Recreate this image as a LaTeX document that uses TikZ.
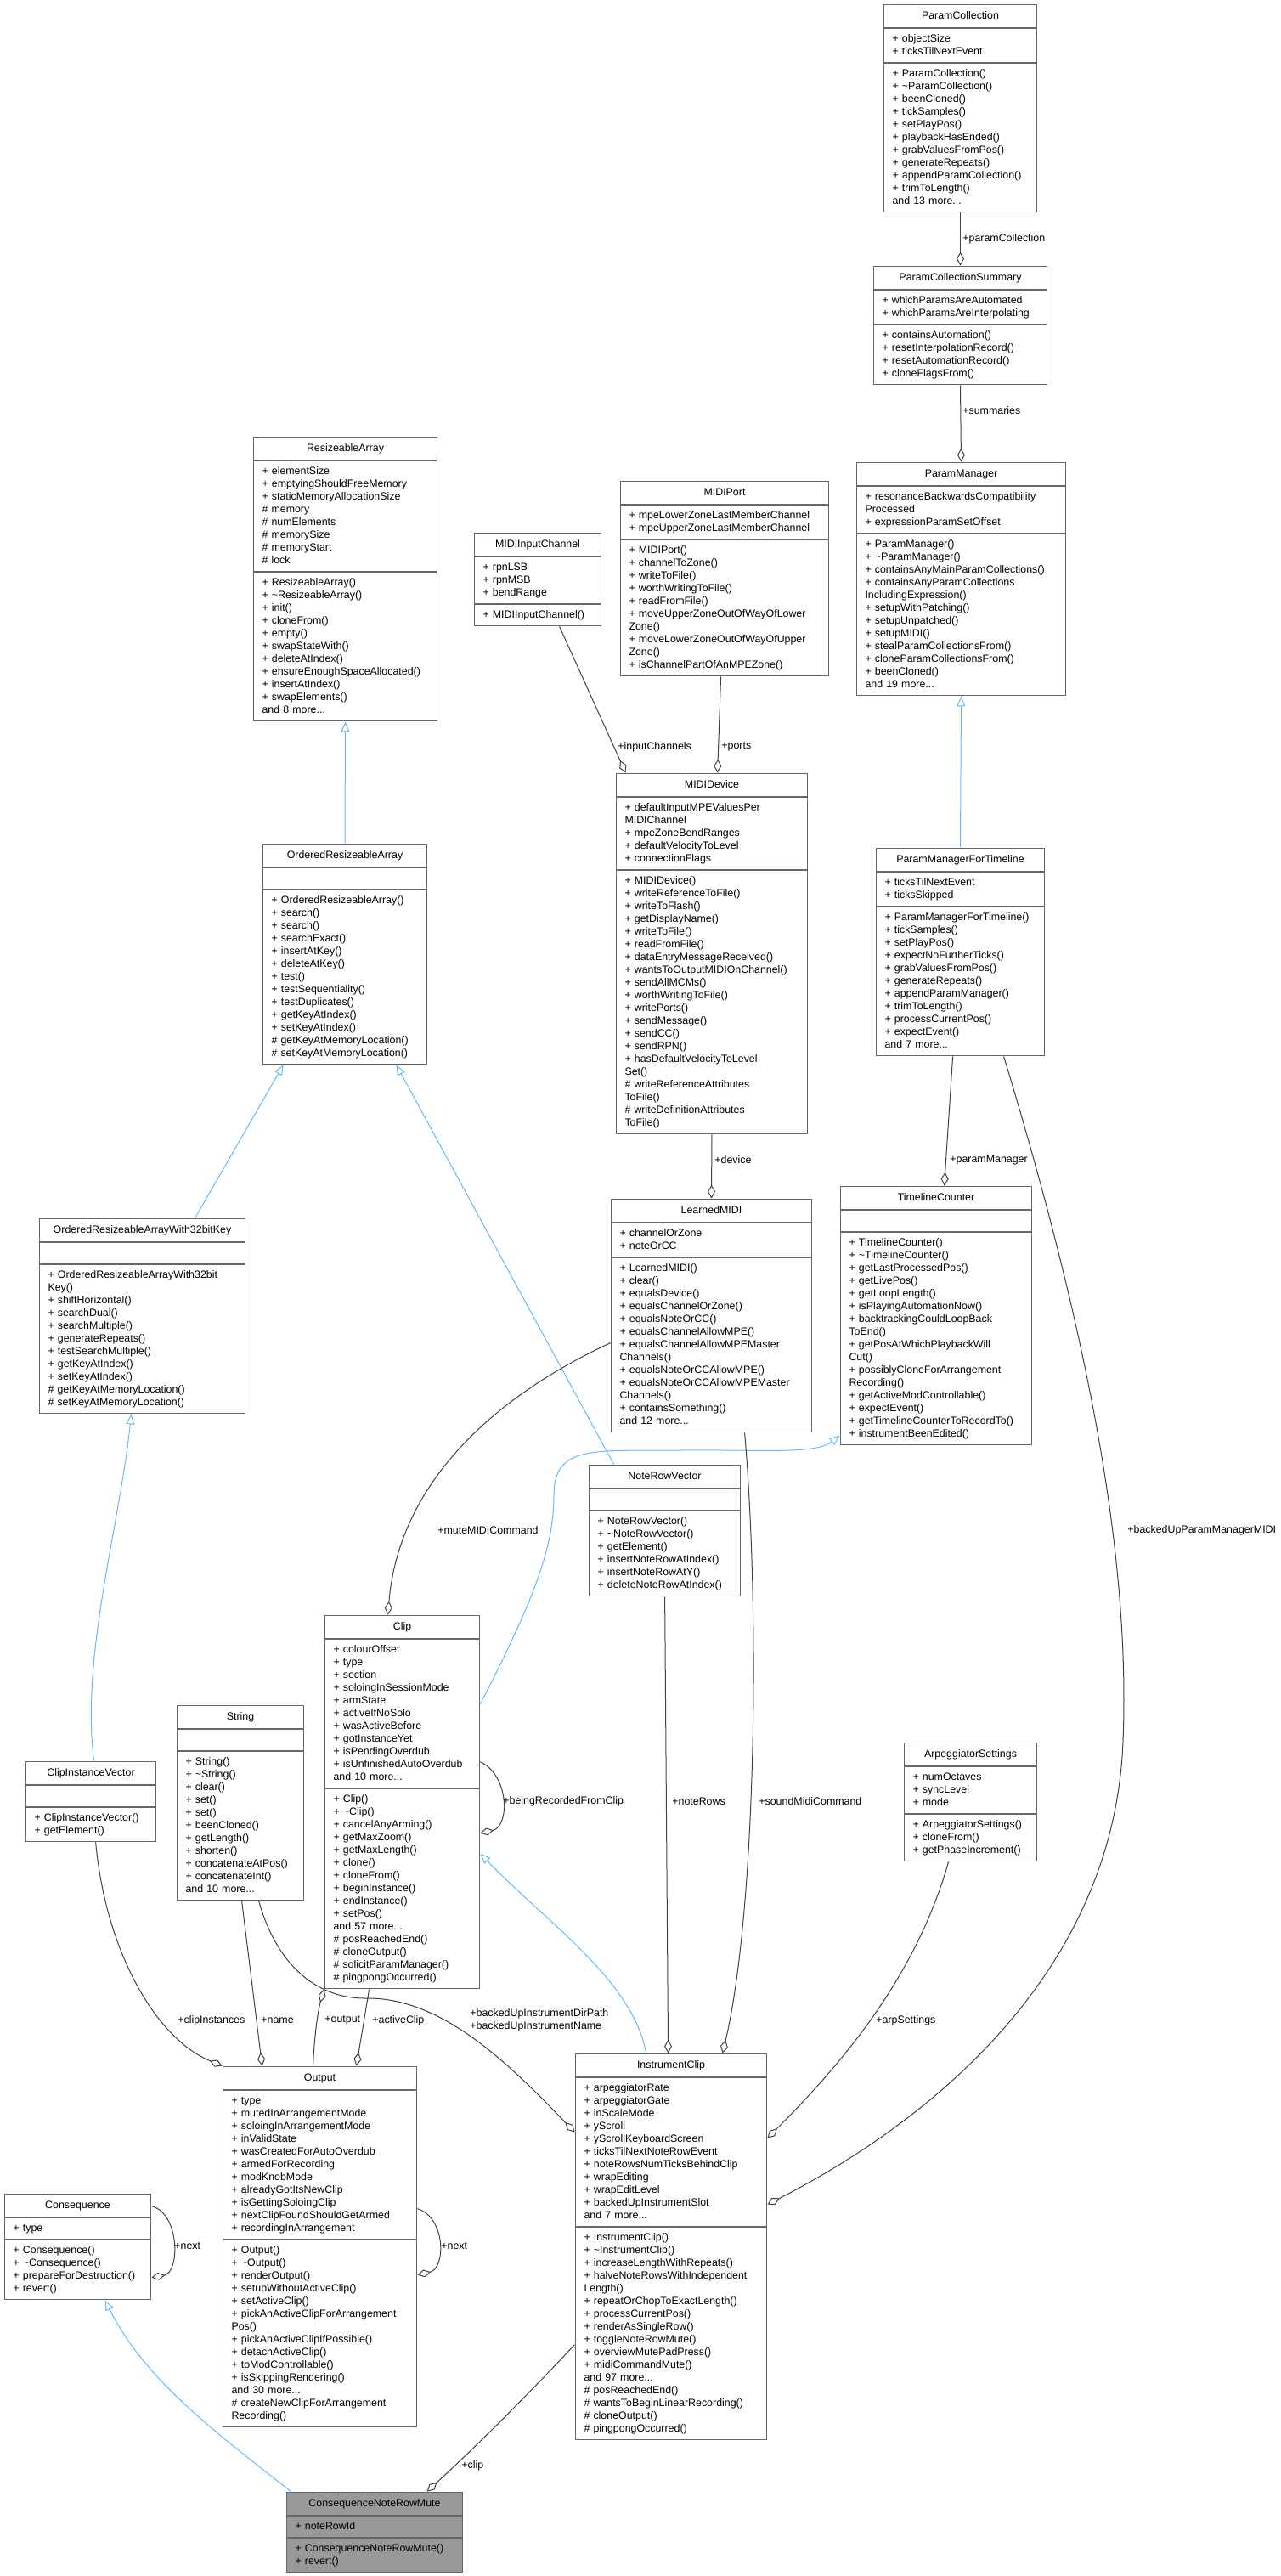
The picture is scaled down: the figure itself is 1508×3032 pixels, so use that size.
\documentclass[tikz,border=0pt]{standalone}
\usepackage{fontspec}
\newfontfamily\umlfont{Liberation Sans}
\usetikzlibrary{arrows.meta,fit}
\definecolor{boxgray}{HTML}{666666}
\definecolor{linegray}{HTML}{404040}
\definecolor{inhblue}{HTML}{63B8FF}
\definecolor{focusgray}{HTML}{999999}

% class box: [style]{name}{x}{y}{width}{title}{attributes}{methods}
\newcommand{\umlclass}[8][]{%
  \pgfmathsetmacro\clsw{#5*0.5-10}%
  \node[classtitle,#1,text width=\clsw pt] (#2-t) at (#3,#4) {#6};
  \node[classpart,#1,text width=\clsw pt,anchor=north] (#2-a) at (#2-t.south) {#7};
  \node[classpart,#1,text width=\clsw pt,anchor=north] (#2-m) at (#2-a.south) {#8};
  \node[fit=(#2-t)(#2-m),inner sep=0pt] (#2) {};
}

\begin{document}
\begin{tikzpicture}[x=0.5pt,y=-0.5pt,
    umltext/.style={font=\umlfont\fontsize{6.2}{7.5}\selectfont},
    classtitle/.style={umltext,draw=boxgray,fill=white,line width=0.5pt,align=center,anchor=north west,
      inner xsep=5pt,inner ysep=3pt,execute at begin node=\strut,execute at end node=\strut},
    classpart/.style={umltext,draw=boxgray,fill=white,line width=0.5pt,align=left,
      inner xsep=5pt,inner ysep=2.5pt,execute at begin node=\strut,execute at end node=\strut},
    focus/.style={fill=focusgray},
    agg/.style={draw=linegray,line width=0.5pt,-{Diamond[open,length=8pt,width=4.5pt]}},
    inh/.style={draw=inhblue,line width=0.5pt,-{Triangle[open,length=6pt,width=5pt]}},
    lbl/.style={umltext,anchor=west,inner sep=0pt,align=left}]
\useasboundingbox (0,0) rectangle (1508,3032);

\umlclass{ParamCollection}{1040}{5}{180}{ParamCollection}
  {+ objectSize\\+ ticksTilNextEvent}
  {+ ParamCollection()\\+ \textasciitilde ParamCollection()\\+ beenCloned()\\+ tickSamples()\\+ setPlayPos()\\+ playbackHasEnded()\\+ grabValuesFromPos()\\+ generateRepeats()\\+ appendParamCollection()\\+ trimToLength()\\and 13 more...}
\umlclass{ParamCollectionSummary}{1028}{313}{204}{ParamCollectionSummary}
  {+ whichParamsAreAutomated\\+ whichParamsAreInterpolating}
  {+ containsAutomation()\\+ resetInterpolationRecord()\\+ resetAutomationRecord()\\+ cloneFlagsFrom()}
\umlclass{ParamManager}{1008}{544}{246}{ParamManager}
  {+ resonanceBackwardsCompatibility\\Processed\\+ expressionParamSetOffset}
  {+ ParamManager()\\+ \textasciitilde ParamManager()\\+ containsAnyMainParamCollections()\\+ containsAnyParamCollections\\IncludingExpression()\\+ setupWithPatching()\\+ setupUnpatched()\\+ setupMIDI()\\+ stealParamCollectionsFrom()\\+ cloneParamCollectionsFrom()\\+ beenCloned()\\and 19 more...}
\umlclass{ResizeableArray}{298}{514}{216}{ResizeableArray}
  {+ elementSize\\+ emptyingShouldFreeMemory\\+ staticMemoryAllocationSize\\\# memory\\\# numElements\\\# memorySize\\\# memoryStart\\\# lock}
  {+ ResizeableArray()\\+ \textasciitilde ResizeableArray()\\+ init()\\+ cloneFrom()\\+ empty()\\+ swapStateWith()\\+ deleteAtIndex()\\+ ensureEnoughSpaceAllocated()\\+ insertAtIndex()\\+ swapElements()\\and 8 more...}
\umlclass{MIDIInputChannel}{558}{627}{149}{MIDIInputChannel}
  {+ rpnLSB\\+ rpnMSB\\+ bendRange}
  {+ MIDIInputChannel()}
\umlclass{MIDIPort}{730}{566}{245}{MIDIPort}
  {+ mpeLowerZoneLastMemberChannel\\+ mpeUpperZoneLastMemberChannel}
  {+ MIDIPort()\\+ channelToZone()\\+ writeToFile()\\+ worthWritingToFile()\\+ readFromFile()\\+ moveUpperZoneOutOfWayOfLower\\Zone()\\+ moveLowerZoneOutOfWayOfUpper\\Zone()\\+ isChannelPartOfAnMPEZone()}
\umlclass{MIDIDevice}{725}{910}{225}{MIDIDevice}
  {+ defaultInputMPEValuesPer\\MIDIChannel\\+ mpeZoneBendRanges\\+ defaultVelocityToLevel\\+ connectionFlags}
  {+ MIDIDevice()\\+ writeReferenceToFile()\\+ writeToFlash()\\+ getDisplayName()\\+ writeToFile()\\+ readFromFile()\\+ dataEntryMessageReceived()\\+ wantsToOutputMIDIOnChannel()\\+ sendAllMCMs()\\+ worthWritingToFile()\\+ writePorts()\\+ sendMessage()\\+ sendCC()\\+ sendRPN()\\+ hasDefaultVelocityToLevel\\Set()\\\# writeReferenceAttributes\\ToFile()\\\# writeDefinitionAttributes\\ToFile()}
\umlclass{OrderedResizeableArray}{309}{993}{193}{OrderedResizeableArray}
  {}
  {+ OrderedResizeableArray()\\+ search()\\+ search()\\+ searchExact()\\+ insertAtKey()\\+ deleteAtKey()\\+ test()\\+ testSequentiality()\\+ testDuplicates()\\+ getKeyAtIndex()\\+ setKeyAtIndex()\\\# getKeyAtMemoryLocation()\\\# setKeyAtMemoryLocation()}
\umlclass{ParamManagerForTimeline}{1031}{998}{198}{ParamManagerForTimeline}
  {+ ticksTilNextEvent\\+ ticksSkipped}
  {+ ParamManagerForTimeline()\\+ tickSamples()\\+ setPlayPos()\\+ expectNoFurtherTicks()\\+ grabValuesFromPos()\\+ generateRepeats()\\+ appendParamManager()\\+ trimToLength()\\+ processCurrentPos()\\+ expectEvent()\\and 7 more...}
\umlclass{LearnedMIDI}{719}{1411}{236}{LearnedMIDI}
  {+ channelOrZone\\+ noteOrCC}
  {+ LearnedMIDI()\\+ clear()\\+ equalsDevice()\\+ equalsChannelOrZone()\\+ equalsNoteOrCC()\\+ equalsChannelAllowMPE()\\+ equalsChannelAllowMPEMaster\\Channels()\\+ equalsNoteOrCCAllowMPE()\\+ equalsNoteOrCCAllowMPEMaster\\Channels()\\+ containsSomething()\\and 12 more...}
\umlclass{TimelineCounter}{989}{1396}{225}{TimelineCounter}
  {}
  {+ TimelineCounter()\\+ \textasciitilde TimelineCounter()\\+ getLastProcessedPos()\\+ getLivePos()\\+ getLoopLength()\\+ isPlayingAutomationNow()\\+ backtrackingCouldLoopBack\\ToEnd()\\+ getPosAtWhichPlaybackWill\\Cut()\\+ possiblyCloneForArrangement\\Recording()\\+ getActiveModControllable()\\+ expectEvent()\\+ getTimelineCounterToRecordTo()\\+ instrumentBeenEdited()}
\umlclass{OrderedResizeableArrayWith32bitKey}{46}{1434}{242}{OrderedResizeableArrayWith32bitKey}
  {}
  {+ OrderedResizeableArrayWith32bit\\Key()\\+ shiftHorizontal()\\+ searchDual()\\+ searchMultiple()\\+ generateRepeats()\\+ testSearchMultiple()\\+ getKeyAtIndex()\\+ setKeyAtIndex()\\\# getKeyAtMemoryLocation()\\\# setKeyAtMemoryLocation()}
\umlclass{NoteRowVector}{693}{1724}{178}{NoteRowVector}
  {}
  {+ NoteRowVector()\\+ \textasciitilde NoteRowVector()\\+ getElement()\\+ insertNoteRowAtIndex()\\+ insertNoteRowAtY()\\+ deleteNoteRowAtIndex()}
\umlclass{Clip}{382}{1901}{182}{Clip}
  {+ colourOffset\\+ type\\+ section\\+ soloingInSessionMode\\+ armState\\+ activeIfNoSolo\\+ wasActiveBefore\\+ gotInstanceYet\\+ isPendingOverdub\\+ isUnfinishedAutoOverdub\\and 10 more...}
  {+ Clip()\\+ \textasciitilde Clip()\\+ cancelAnyArming()\\+ getMaxZoom()\\+ getMaxLength()\\+ clone()\\+ cloneFrom()\\+ beginInstance()\\+ endInstance()\\+ setPos()\\and 57 more...\\\# posReachedEnd()\\\# cloneOutput()\\\# solicitParamManager()\\\# pingpongOccurred()}
\umlclass{String}{208}{2007}{149}{String}
  {}
  {+ String()\\+ \textasciitilde String()\\+ clear()\\+ set()\\+ set()\\+ beenCloned()\\+ getLength()\\+ shorten()\\+ concatenateAtPos()\\+ concatenateInt()\\and 10 more...}
\umlclass{ClipInstanceVector}{30}{2073}{153}{ClipInstanceVector}
  {}
  {+ ClipInstanceVector()\\+ getElement()}
\umlclass{ArpeggiatorSettings}{1064}{2051}{156}{ArpeggiatorSettings}
  {+ numOctaves\\+ syncLevel\\+ mode}
  {+ ArpeggiatorSettings()\\+ cloneFrom()\\+ getPhaseIncrement()}
\umlclass{Output}{262}{2432}{228}{Output}
  {+ type\\+ mutedInArrangementMode\\+ soloingInArrangementMode\\+ inValidState\\+ wasCreatedForAutoOverdub\\+ armedForRecording\\+ modKnobMode\\+ alreadyGotItsNewClip\\+ isGettingSoloingClip\\+ nextClipFoundShouldGetArmed\\+ recordingInArrangement}
  {+ Output()\\+ \textasciitilde Output()\\+ renderOutput()\\+ setupWithoutActiveClip()\\+ setActiveClip()\\+ pickAnActiveClipForArrangement\\Pos()\\+ pickAnActiveClipIfPossible()\\+ detachActiveClip()\\+ toModControllable()\\+ isSkippingRendering()\\and 30 more...\\\# createNewClipForArrangement\\Recording()}
\umlclass{InstrumentClip}{677}{2417}{225}{InstrumentClip}
  {+ arpeggiatorRate\\+ arpeggiatorGate\\+ inScaleMode\\+ yScroll\\+ yScrollKeyboardScreen\\+ ticksTilNextNoteRowEvent\\+ noteRowsNumTicksBehindClip\\+ wrapEditing\\+ wrapEditLevel\\+ backedUpInstrumentSlot\\and 7 more...}
  {+ InstrumentClip()\\+ \textasciitilde InstrumentClip()\\+ increaseLengthWithRepeats()\\+ halveNoteRowsWithIndependent\\Length()\\+ repeatOrChopToExactLength()\\+ processCurrentPos()\\+ renderAsSingleRow()\\+ toggleNoteRowMute()\\+ overviewMutePadPress()\\+ midiCommandMute()\\and 97 more...\\\# posReachedEnd()\\\# wantsToBeginLinearRecording()\\\# cloneOutput()\\\# pingpongOccurred()}
\umlclass{Consequence}{5}{2582}{172}{Consequence}
  {+ type}
  {+ Consequence()\\+ \textasciitilde Consequence()\\+ prepareForDestruction()\\+ revert()}
\umlclass[focus]{ConsequenceNoteRowMute}{337}{2933}{207}{ConsequenceNoteRowMute}
  {+ noteRowId}
  {+ ConsequenceNoteRowMute()\\+ revert()}

% inheritance
\draw[inh] (OrderedResizeableArray.north) -- (ResizeableArray.south);
\draw[inh] ([shift={(184,0)}]OrderedResizeableArrayWith32bitKey.north west) -- ([shift={(25,0)}]OrderedResizeableArray.south west);
\draw[inh] ([shift={(30,0)}]NoteRowVector.north west) -- ([shift={(158,0)}]OrderedResizeableArray.south west);
\draw[inh] ([shift={(81,0)}]ClipInstanceVector.north west) .. controls (95,1950) and (140,1800) .. ([shift={(109,0)}]OrderedResizeableArrayWith32bitKey.south west);
\draw[inh] (ParamManagerForTimeline.north) -- (ParamManager.south);
\draw[inh] ([shift={(0,105)}]Clip.north east) .. controls (630,1880) and (652,1820) .. (652,1760)
  .. controls (652,1700) and (700,1708) .. (800,1707) .. controls (900,1706) and (960,1712) .. ([shift={(0,294)}]TimelineCounter.north west);
\draw[inh] ([shift={(84,0)}]InstrumentClip.north west) .. controls (745,2330) and (640,2260) .. ([shift={(0,281)}]Clip.north east);
\draw[inh] ([shift={(6,0)}]ConsequenceNoteRowMute.north west) .. controls (250,2860) and (170,2800) .. ([shift={(119,0)}]Consequence.south west);

% aggregation
\draw[agg] (ParamCollection.south) -- (ParamCollectionSummary.north);
\draw[agg] (ParamCollectionSummary.south) -- (ParamManager.north);
\draw[agg] ([shift={(101,0)}]MIDIInputChannel.south west) -- ([shift={(12,0)}]MIDIDevice.north west);
\draw[agg] ([shift={(119,0)}]MIDIPort.south west) -- ([shift={(120,0)}]MIDIDevice.north west);
\draw[agg] (MIDIDevice.south) -- (LearnedMIDI.north);
\draw[agg] ([shift={(91,0)}]ParamManagerForTimeline.south west) -- ([shift={(123,0)}]TimelineCounter.north west);
\draw[agg] ([shift={(0,170)}]LearnedMIDI.north west) .. controls (590,1640) and (470,1740) .. ([shift={(75,0)}]Clip.north west);
\draw[agg] ([shift={(151,0)}]ParamManagerForTimeline.south west) .. controls (1290,1600) and (1330,1850) .. (1322,2050)
  .. controls (1310,2350) and (1050,2520) .. ([shift={(0,178)}]InstrumentClip.north east);
\draw[agg] ([shift={(158,0)}]LearnedMIDI.south west) .. controls (895,1900) and (890,2250) .. ([shift={(174,0)}]InstrumentClip.north west);
\draw[agg] ([shift={(90,0)}]NoteRowVector.south west) -- ([shift={(110,0)}]InstrumentClip.north west);
\draw[agg] ([shift={(53,0)}]ArpeggiatorSettings.south west) .. controls (1080,2320) and (1000,2420) .. ([shift={(0,100)}]InstrumentClip.north east);
\draw[agg] ([shift={(0,173)}]Clip.north east) .. controls (600,2090) and (600,2150) .. ([shift={(0,257)}]Clip.north east);
\draw[agg] ([shift={(97,0)}]String.south west) .. controls (325,2310) and (370,2352) .. (430,2352)
  .. controls (520,2350) and (600,2430) .. ([shift={(0,93)}]InstrumentClip.north west);
\draw[agg] ([shift={(77,0)}]String.south west) -- ([shift={(47,0)}]Output.north west);
\draw[agg] ([shift={(83,0)}]ClipInstanceVector.south west) .. controls (125,2300) and (185,2400) .. (Output.north west);
\draw[agg] ([shift={(107,0)}]Output.north west) .. controls (370,2390) and (376,2360) .. (Clip.south west);
\draw[agg] ([shift={(53,0)}]Clip.south west) -- ([shift={(158,0)}]Output.north west);
\draw[agg] ([shift={(0,168)}]Output.north east) .. controls (525,2610) and (525,2670) .. ([shift={(0,246)}]Output.north east);
\draw[agg] ([shift={(0,15)}]Consequence.north east) .. controls (212,2605) and (212,2675) .. ([shift={(0,99)}]Consequence.north east);
\draw[agg] ([shift={(0,343)}]InstrumentClip.north west) .. controls (620,2820) and (560,2880) .. ([shift={(166,0)}]ConsequenceNoteRowMute.north west);

% labels
\node[lbl] (l-pc) at (1133,281) {+paramCollection};
\node[lbl] (l-sum) at (1133,483) {+summaries};
\node[lbl] (l-in) at (727,879) {+inputChannels};
\node[lbl] (l-ports) at (849,879) {+ports};
\node[lbl] (l-dev) at (841,1365) {+device};
\node[lbl] (l-pm) at (1118,1365) {+paramManager};
\node[lbl] (l-mute) at (515,1801) {+muteMIDICommand};
\node[lbl] (l-bup) at (1327,1801) {+backedUpParamManagerMIDI};
\node[lbl] (l-brc) at (592,2120) {+beingRecordedFromClip};
\node[lbl] (l-nr) at (791,2120) {+noteRows};
\node[lbl] (l-smc) at (893,2120) {+soundMidiCommand};
\node[lbl] (l-ci) at (209,2378) {+clipInstances};
\node[lbl] (l-name) at (307,2378) {+name};
\node[lbl] (l-out) at (382,2378) {+output};
\node[lbl] (l-ac) at (438,2378) {+activeClip};
\node[lbl] (l-bui) at (553,2378) {+backedUpInstrumentDirPath\\+backedUpInstrumentName};
\node[lbl] (l-arp) at (1031,2378) {+arpSettings};
\node[lbl] (l-next1) at (205,2644) {+next};
\node[lbl] (l-next2) at (519,2644) {+next};
\node[lbl] (l-clip) at (543,2902) {+clip};
\end{tikzpicture}
\end{document}
